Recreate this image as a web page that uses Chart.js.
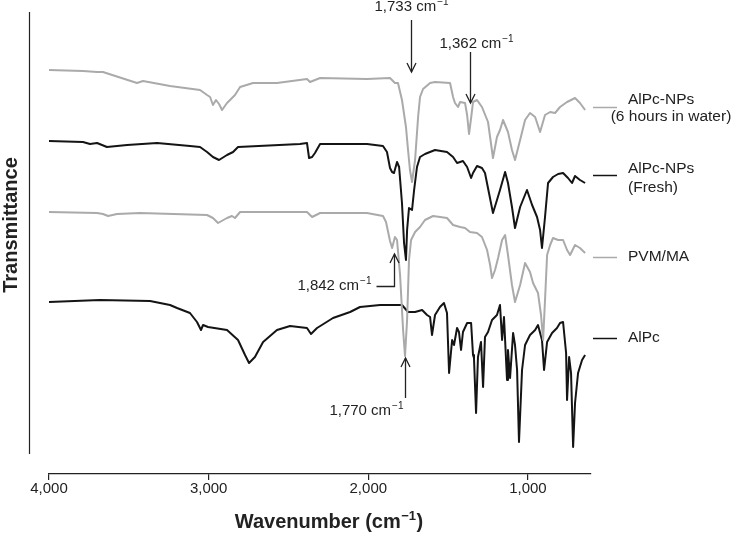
<!DOCTYPE html>
<html>
<head>
<meta charset="utf-8">
<script src="https://cdn.jsdelivr.net/npm/chart.js@4.4.1/dist/chart.umd.min.js"></script>
<style>
html,body{margin:0;padding:0;background:#fff;}
#wrap{width:737px;height:536px;}
</style>
</head>
<body>
<div id="wrap"><canvas id="c" width="737" height="536"></canvas></div>
<script>
// ---------- DATA (wavenumber in cm-1, transmittance in arbitrary offset units) ----------
const seriesNames = ['AlPc-NPs (6 hours in water)', 'AlPc-NPs (Fresh)', 'PVM/MA', 'AlPc'];

const np6hX = [4000,3787,3699,3662,3449,3411,3242,3054,3010,2991,2973,2954,2935,2916,2885,2866,2835,2803,2722,2572,2384,2365,2302,2008,1864,1833,1814,1789,1764,1751,1739,1726,1707,1688,1676,1657,1613,1582,1488,1469,1457,1438,1425,1394,1381,1369,1356,1344,1319,1288,1250,1219,1194,1175,1156,1125,1100,1081,1049,1018,987,955,924,893,861,830,799,755,705,674,642];
const np6hY = [404,403,402,402,391,393,388,384,379,377,369,374,370,364,371,374,379,387,391,391,395,392,396,395,396,391,391,374,347,324,304,292,314,357,377,385,391,392,391,377,371,367,372,371,359,340,356,372,374,367,352,316,337,344,354,342,324,314,334,354,361,357,342,359,362,361,367,372,376,371,364];

const freshX = [4000,3787,3743,3699,3637,3511,3323,3117,3054,3010,2973,2935,2885,2847,2816,2428,2384,2371,2352,2334,2302,2008,1908,1883,1864,1851,1839,1820,1807,1789,1776,1764,1757,1745,1726,1713,1695,1676,1645,1582,1507,1469,1444,1425,1407,1381,1356,1344,1319,1288,1269,1244,1219,1194,1175,1143,1125,1100,1081,1049,1006,974,943,924,912,893,874,843,811,780,749,724,705,674,642];
const freshY = [333,332,330,331,327,329,331,328,327,322,317,314,319,322,327,330,331,316,317,321,330,330,328,322,306,302,301,312,307,271,231,214,244,266,264,284,307,317,320,324,322,317,311,312,313,307,296,301,308,306,301,281,261,274,284,302,291,267,246,267,284,269,257,244,226,257,291,297,300,301,296,291,298,294,291];

const pvmX = [4000,3699,3662,3630,3574,3430,3010,2973,2941,2885,2854,2835,2803,2384,2352,2302,2008,1908,1889,1864,1851,1833,1820,1801,1782,1770,1757,1745,1732,1707,1676,1645,1594,1507,1469,1425,1394,1363,1319,1288,1256,1237,1225,1206,1187,1162,1143,1125,1100,1081,1049,1018,987,968,937,918,905,893,880,861,843,811,780,755,736,705,674,642];
const pvmY = [262,261,260,258,260,261,259,256,251,256,258,256,262,262,257,261,261,258,252,233,226,237,234,199,144,118,154,214,234,242,247,254,258,256,249,247,246,242,241,237,224,209,196,204,216,234,239,219,189,172,189,211,202,191,181,159,134,174,219,229,236,234,234,224,219,229,226,221];

const alpcX = [4000,3681,3367,3242,3198,3117,3073,3048,3035,3004,2885,2816,2772,2747,2710,2659,2572,2490,2384,2359,2321,2221,2114,2052,1926,1789,1751,1707,1663,1632,1613,1601,1582,1551,1526,1507,1494,1475,1463,1444,1432,1419,1407,1381,1356,1344,1338,1325,1313,1294,1281,1269,1250,1225,1194,1175,1162,1150,1131,1125,1112,1093,1081,1068,1056,1037,1018,987,955,937,912,899,880,849,818,799,780,761,755,742,730,717,705,686,661,642];
const alpcY = [172,174,173,169,166,161,152,144,149,147,144,134,119,111,117,132,144,148,146,140,146,156,162,167,169,169,162,162,164,159,157,139,159,167,171,161,101,134,129,146,142,124,142,151,151,119,116,61,117,132,87,137,142,154,159,169,134,157,94,124,96,141,129,104,32,104,129,139,144,149,134,104,132,141,146,151,152,121,74,117,101,27,71,101,114,119];

const xTickValues = [4000, 3000, 2000, 1000];
const peakWavenumbers = [1733, 1362, 1842, 1770];
const peakLabels = ['1,733', '1,362', '1,842', '1,770'];

// ---------- STYLE / LAYOUT ----------
const FONT = '"Liberation Sans", Arial, Helvetica, sans-serif';
const GRAY = '#aaaaaa';
const BLACK = '#141414';
const TEXT = '#222222';

function zip(xs, ys) { return xs.map((x, i) => ({x: x, y: ys[i]})); }

const seriesColors = [GRAY, BLACK, GRAY, BLACK];
const seriesData = [zip(np6hX, np6hY), zip(freshX, freshY), zip(pvmX, pvmY), zip(alpcX, alpcY)];

// annotation layout (tail / tip / text in y-units of the chart, text offsets in px)
const peakLayout = [
  {tail: 454, tip: 402, textV: 467, align: 'center', dx: 0},
  {tail: 422, tip: 371, textV: 430, align: 'center', dx: 6},
  {bracket: true, corner: 188, tip: 220, textV: 188, align: 'right', dx: -23},
  {tail: 76, tip: 116, textV: 63, align: 'right', dx: -2}
];

// legend layout in px
const legendLayout = [
  {lineY: 107, color: GRAY, lines: [{t: 'AlPc-NPs', x: 628, y: 100, a: 'left'}, {t: '(6 hours in water)', x: 671, y: 117, a: 'center'}]},
  {lineY: 175, color: BLACK, lines: [{t: 'AlPc-NPs', x: 628, y: 169, a: 'left'}, {t: '(Fresh)', x: 628, y: 188, a: 'left'}]},
  {lineY: 257, color: GRAY, lines: [{t: 'PVM/MA', x: 628, y: 257, a: 'left'}]},
  {lineY: 338, color: BLACK, lines: [{t: 'AlPc', x: 628, y: 338, a: 'left'}]}
];

function drawWithSup(ctx, main, sup, x, y, align, size, bold) {
  const w = bold ? 'bold ' : '';
  const ss = Math.round(size * 0.66);
  ctx.font = w + size + 'px ' + FONT;
  const w1 = ctx.measureText(main).width;
  ctx.font = w + ss + 'px ' + FONT;
  const w2 = ctx.measureText(sup).width;
  const total = w1 + w2 + 1;
  let sx = x;
  if (align === 'center') sx = x - total / 2;
  else if (align === 'right') sx = x - total;
  ctx.textAlign = 'left';
  ctx.textBaseline = 'middle';
  ctx.font = w + size + 'px ' + FONT;
  ctx.fillText(main, sx, y);
  ctx.font = w + ss + 'px ' + FONT;
  ctx.fillText(sup, sx + w1 + 1, y - size * 0.33);
  return sx + w1 + 1 + w2;
}

function arrowHead(ctx, x, y, dir) { // dir = +1 pointing down, -1 pointing up
  ctx.beginPath();
  ctx.moveTo(x - 4.5, y - dir * 9);
  ctx.lineTo(x, y);
  ctx.lineTo(x + 4.5, y - dir * 9);
  ctx.stroke();
}

const decoPlugin = {
  id: 'deco',
  afterDraw(chart) {
    const ctx = chart.ctx;
    const a = chart.chartArea;
    const xs = chart.scales.x, ys = chart.scales.y;
    ctx.save();
    ctx.strokeStyle = TEXT;
    ctx.fillStyle = TEXT;
    ctx.lineWidth = 1.2;
    // left vertical axis line
    const lx = Math.round(a.left - 20) + 0.5;
    ctx.beginPath();
    ctx.moveTo(lx, a.top);
    ctx.lineTo(lx, a.bottom - 20);
    ctx.stroke();
    // y title
    ctx.save();
    ctx.translate(17, (a.top + a.bottom) / 2 - 18);
    ctx.rotate(-Math.PI / 2);
    ctx.font = 'bold 20px ' + FONT;
    ctx.textAlign = 'center';
    ctx.textBaseline = 'alphabetic';
    ctx.fillText('Transmittance', 0, 0);
    ctx.restore();

    // x title: "Wavenumber (cm-1)"
    ctx.font = 'bold 20px ' + FONT;
    const wMain = ctx.measureText('Wavenumber (cm').width;
    ctx.font = 'bold 13px ' + FONT;
    const wSup = ctx.measureText('\u22121').width;
    ctx.font = 'bold 20px ' + FONT;
    const wEnd = ctx.measureText(')').width;
    const tw = wMain + wSup + 1 + wEnd;
    const tx = (a.left + a.right) / 2 + 9 - tw / 2;
    const ty = a.bottom + 48;
    ctx.textAlign = 'left';
    ctx.textBaseline = 'middle';
    ctx.fillText('Wavenumber (cm', tx, ty);
    ctx.font = 'bold 13px ' + FONT;
    ctx.fillText('\u22121', tx + wMain + 0.5, ty - 6);
    ctx.font = 'bold 20px ' + FONT;
    ctx.fillText(')', tx + wMain + wSup + 1, ty);

    // peak annotations
    ctx.lineWidth = 1.3;
    peakWavenumbers.forEach((wn, i) => {
      const L = peakLayout[i];
      const px = Math.round(xs.getPixelForValue(wn)) + 0.5;
      const tipY = ys.getPixelForValue(L.tip);
      if (L.bracket) {
        const cy = Math.round(ys.getPixelForValue(L.corner)) + 0.5;
        ctx.beginPath();
        ctx.moveTo(px - 18, cy);
        ctx.lineTo(px, cy);
        ctx.lineTo(px, tipY);
        ctx.stroke();
        arrowHead(ctx, px, tipY, -1);
      } else {
        const tailY = ys.getPixelForValue(L.tail);
        ctx.beginPath();
        ctx.moveTo(px, tailY);
        ctx.lineTo(px, tipY);
        ctx.stroke();
        arrowHead(ctx, px, tipY, tipY > tailY ? 1 : -1);
      }
      drawWithSup(ctx, peakLabels[i] + ' cm', '\u22121', px + L.dx, ys.getPixelForValue(L.textV), L.align, 15, false);
    });

    // legend
    legendLayout.forEach(item => {
      ctx.strokeStyle = item.color;
      ctx.lineWidth = 1.5;
      ctx.beginPath();
      ctx.moveTo(a.right + 2, item.lineY + 0.5);
      ctx.lineTo(a.right + 26, item.lineY + 0.5);
      ctx.stroke();
      ctx.fillStyle = TEXT;
      ctx.font = '15.5px ' + FONT;
      ctx.textBaseline = 'middle';
      item.lines.forEach(l => {
        ctx.textAlign = l.a;
        ctx.fillText(l.t, l.x, l.y);
      });
    });
    ctx.restore();
  }
};

const datasets = seriesNames.map((name, i) => ({
  label: name,
  data: seriesData[i],
  borderColor: seriesColors[i],
  backgroundColor: seriesColors[i],
  borderWidth: 2,
  pointRadius: 0,
  pointHoverRadius: 0,
  showLine: true,
  tension: 0,
  borderJoinStyle: 'round',
  fill: false
}));

new Chart(document.getElementById('c').getContext('2d'), {
  type: 'scatter',
  data: {datasets: datasets},
  options: {
    responsive: false,
    animation: false,
    devicePixelRatio: 1,
    layout: {padding: {left: 49, right: 146, top: 12, bottom: 38}},
    plugins: {legend: {display: false}, tooltip: {enabled: false}, title: {display: false}},
    scales: {
      x: {
        type: 'linear',
        reverse: true,
        min: 605,
        max: 4000,
        afterBuildTicks: (s) => { s.ticks = xTickValues.map(v => ({value: v})); },
        ticks: {
          callback: (v) => Number(v).toLocaleString('en-US'),
          font: {family: FONT, size: 15},
          color: TEXT,
          padding: 0,
          maxRotation: 0,
          autoSkip: false
        },
        grid: {display: true, drawOnChartArea: false, drawTicks: true, tickLength: 6, color: TEXT, lineWidth: 1.2},
        border: {display: true, color: TEXT, width: 1.2},
        title: {display: false}
      },
      y: {display: false, min: 0, max: 462}
    }
  },
  plugins: [decoPlugin]
});
</script>
</body>
</html>
